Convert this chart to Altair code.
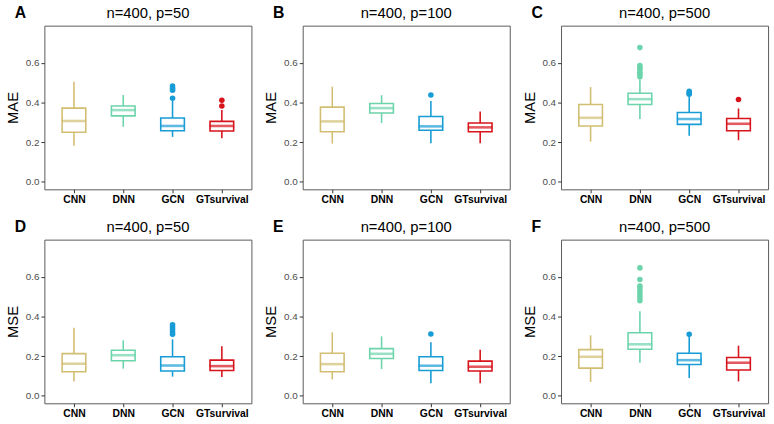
import altair as alt
import pandas as pd

methods = ["CNN", "DNN", "GCN", "GTsurvival"]
colors = ["#D2BE72", "#6CD4AB", "#179CD6", "#D7131B"]

panel_letters = ["A", "B", "C", "D", "E", "F"]
panel_titles = ["n=400, p=50", "n=400, p=100", "n=400, p=500",
                "n=400, p=50", "n=400, p=100", "n=400, p=500"]
panel_metrics = ["MAE", "MAE", "MAE", "MSE", "MSE", "MSE"]

whisker_low = {
    "A": [0.182, 0.278, 0.227, 0.220],
    "B": [0.193, 0.297, 0.195, 0.195],
    "C": [0.203, 0.317, 0.233, 0.210],
    "D": [0.073, 0.137, 0.097, 0.095],
    "E": [0.083, 0.135, 0.063, 0.063],
    "F": [0.070, 0.167, 0.090, 0.073],
}
box_q1 = {
    "A": [0.250, 0.333, 0.258, 0.257],
    "B": [0.253, 0.347, 0.260, 0.253],
    "C": [0.282, 0.390, 0.290, 0.258],
    "D": [0.122, 0.177, 0.125, 0.128],
    "E": [0.122, 0.188, 0.128, 0.125],
    "F": [0.140, 0.235, 0.158, 0.130],
}
box_median = {
    "A": [0.307, 0.362, 0.282, 0.282],
    "B": [0.305, 0.372, 0.280, 0.275],
    "C": [0.323, 0.417, 0.317, 0.293],
    "D": [0.162, 0.205, 0.153, 0.150],
    "E": [0.160, 0.212, 0.152, 0.147],
    "F": [0.197, 0.260, 0.180, 0.167],
}
box_q3 = {
    "A": [0.372, 0.383, 0.322, 0.305],
    "B": [0.377, 0.395, 0.330, 0.297],
    "C": [0.390, 0.447, 0.350, 0.320],
    "D": [0.213, 0.230, 0.197, 0.180],
    "E": [0.215, 0.238, 0.197, 0.175],
    "F": [0.233, 0.318, 0.215, 0.193],
}
whisker_high = {
    "A": [0.505, 0.438, 0.410, 0.362],
    "B": [0.480, 0.437, 0.408, 0.355],
    "C": [0.478, 0.517, 0.430, 0.370],
    "D": [0.343, 0.280, 0.285, 0.250],
    "E": [0.320, 0.300, 0.270, 0.232],
    "F": [0.305, 0.427, 0.300, 0.253],
}
outliers = {
    ("A", "GCN"): [0.483, 0.472, 0.462, 0.422],
    ("A", "GTsurvival"): [0.412, 0.383],
    ("B", "GCN"): [0.438],
    ("C", "DNN"): [0.677, 0.587, 0.575, 0.565, 0.553, 0.542, 0.530],
    ("C", "GCN"): [0.457, 0.447, 0.442],
    ("C", "GTsurvival"): [0.415],
    ("D", "GCN"): [0.358, 0.347, 0.335, 0.322, 0.310],
    ("E", "GCN"): [0.312],
    ("F", "DNN"): [0.645, 0.587, 0.553, 0.540, 0.525, 0.510, 0.495, 0.480],
    ("F", "GCN"): [0.310],
}

FONT = "Liberation Sans"
color_scale = alt.Scale(domain=methods, range=colors)
x_scale = alt.Scale(domain=methods, type="point", padding=0.6)
y_domain = [-0.0375, 0.7875]
W, H = 210, 166


def panel(i):
    letter = panel_letters[i]
    metric = panel_metrics[i]
    stats = pd.DataFrame({
        "method": methods,
        "low": whisker_low[letter],
        "q1": box_q1[letter],
        "median": box_median[letter],
        "q3": box_q3[letter],
        "high": whisker_high[letter],
    })
    out_rows = []
    for (p, m), vals in outliers.items():
        if p == letter:
            for v in vals:
                out_rows.append({"method": m, "value": v})
    out_df = pd.DataFrame(out_rows, columns=["method", "value"])

    y_scale = alt.Scale(domain=y_domain, nice=False, zero=False)
    x_enc = alt.X("method:N", scale=x_scale, sort=methods,
                  axis=alt.Axis(title=None, labelAngle=0, labelFontWeight="bold",
                                labelColor="black", labelFontSize=10.5, labelFont=FONT,
                                tickSize=3.5, tickColor="#333333", domain=False,
                                labelPadding=2))
    y_axis = alt.Axis(title=metric, values=[0, 0.2, 0.4, 0.6], format=".1f",
                      grid=False, domain=False, tickSize=3.5, tickColor="#333333",
                      labelColor="#4D4D4D", labelFontSize=10, labelFont=FONT,
                      labelPadding=2, titleFont=FONT, titleFontSize=15,
                      titleFontWeight="normal", titleColor="black", titlePadding=5)
    col = alt.Color("method:N", scale=color_scale, legend=None)

    base = alt.Chart(stats)
    w_low = base.mark_rule(strokeWidth=1.6).encode(
        x=x_enc, y=alt.Y("low:Q", scale=y_scale, axis=y_axis), y2="q1:Q", color=col)
    w_high = base.mark_rule(strokeWidth=1.6).encode(
        x=x_enc, y=alt.Y("q3:Q", scale=y_scale, axis=y_axis), y2="high:Q", color=col)
    box = base.mark_bar(size=24, fill="white", strokeWidth=1.6).encode(
        x=x_enc, y=alt.Y("q1:Q", scale=y_scale, axis=y_axis), y2="q3:Q",
        stroke=alt.Stroke("method:N", scale=color_scale, legend=None))
    med = base.mark_tick(size=25, thickness=2.6).encode(
        x=x_enc, y=alt.Y("median:Q", scale=y_scale, axis=y_axis), color=col)
    pts = alt.Chart(out_df).mark_circle(size=32, opacity=1).encode(
        x=x_enc, y=alt.Y("value:Q", scale=y_scale, axis=y_axis), color=col)
    lab = alt.Chart(pd.DataFrame({"t": [letter]})).mark_text(
        font=FONT, fontSize=16, fontWeight="bold", align="left", baseline="middle",
        color="black").encode(text="t:N", x=alt.value(-30), y=alt.value(-13))
    ttl = alt.Chart(pd.DataFrame({"t": [panel_titles[i]]})).mark_text(
        font=FONT, fontSize=15, fontWeight="normal", align="center", baseline="middle",
        color="black").encode(text="t:N", x=alt.value(W / 2), y=alt.value(-13))

    return alt.layer(w_low, w_high, box, med, pts, lab, ttl).properties(
        width=W, height=H)


chart = alt.concat(*[panel(i) for i in range(6)], columns=3,
                   spacing=alt.RowColnumber(row=12, column=11)).properties(
    padding={"left": 5, "top": 1, "right": 5, "bottom": 5}
).configure_view(stroke="#595959", strokeWidth=1).resolve_scale(color="shared")

chart.save("out.html", embed_options={"renderer": "svg", "actions": False})
